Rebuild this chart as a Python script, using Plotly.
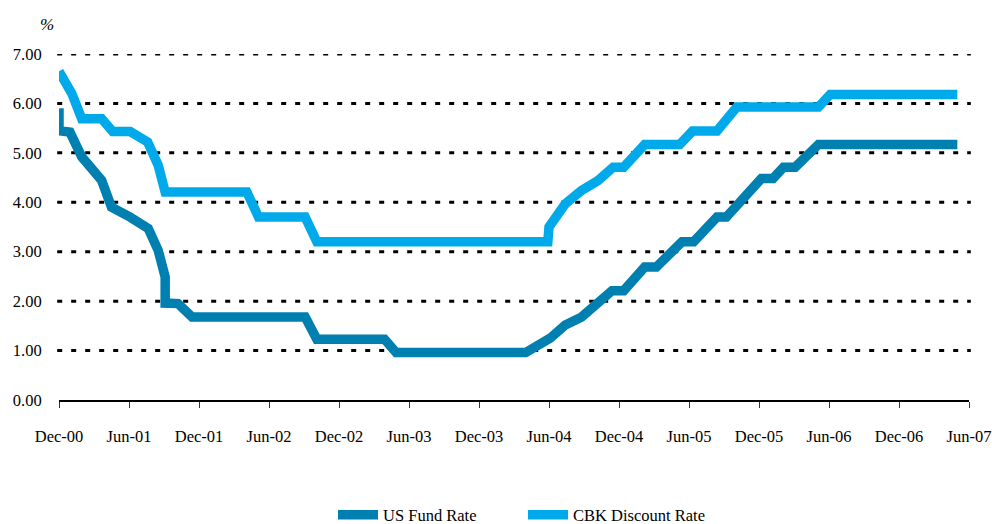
import plotly.graph_objects as go

# ---- data (months since Dec-00) ----
tick_months = [0, 6, 12, 18, 24, 30, 36, 42, 48, 54, 60, 66, 72, 78]
tick_labels = ["Dec-00", "Jun-01", "Dec-01", "Jun-02", "Dec-02", "Jun-03", "Dec-03",
               "Jun-04", "Dec-04", "Jun-05", "Dec-05", "Jun-06", "Dec-06", "Jun-07"]
y_ticks = [0, 1, 2, 3, 4, 5, 6, 7]
y_labels = ["0.00", "1.00", "2.00", "3.00", "4.00", "5.00", "6.00", "7.00"]

us_month = [0, 0, 0.94, 1.95, 3.66, 4.5, 6.1, 7.65, 8.5, 9.1, 9.1, 10.2, 11.4, 21.1, 22.1,
            27.9, 28.9, 40.0, 42.1, 43.4, 44.8, 46.2, 47.4, 48.4, 50.2, 51.2, 53.4, 54.4,
            56.4, 57.2, 60.2, 61.2, 62.1, 63.1, 65.1, 77.0]
us_rate = [5.9, 5.45, 5.42, 4.92, 4.44, 3.9, 3.7, 3.47, 3.03, 2.49, 1.96, 1.95, 1.68, 1.68, 1.23,
           1.23, 0.96, 0.96, 1.25, 1.52, 1.68, 1.95, 2.21, 2.21, 2.69, 2.69, 3.2, 3.2,
           3.70, 3.70, 4.48, 4.48, 4.71, 4.71, 5.17, 5.17]

cbk_month = [0, 1.1, 1.95, 3.66, 4.6, 6.1, 7.6, 8.5, 9.1, 16.1, 17.1, 21.1, 22.1, 41.9, 42.0,
             43.4, 44.8, 46.2, 47.5, 48.4, 50.2, 53.2, 54.3, 56.4, 58.1, 65.1, 66.1, 77.0]
cbk_rate = [6.65, 6.2, 5.69, 5.69, 5.43, 5.43, 5.22, 4.75, 4.21, 4.21, 3.70, 3.70, 3.20, 3.20, 3.5,
            3.97, 4.24, 4.44, 4.71, 4.71, 5.17, 5.17, 5.44, 5.44, 5.93, 5.93, 6.18, 6.18]

grid_values = [1, 2, 3, 4, 5, 6, 7]

US_COLOR = "#007FB1"
CBK_COLOR = "#00A9EA"
FONT = "Liberation Serif"

W, H = 992, 524

fig = go.Figure()
fig.add_trace(go.Scatter(x=us_month, y=us_rate, mode="lines", name="US Fund Rate",
                         line=dict(color=US_COLOR, width=9.5)))
fig.add_trace(go.Scatter(x=cbk_month, y=cbk_rate, mode="lines", name="CBK Discount Rate",
                         line=dict(color=CBK_COLOR, width=9.5)))

for g in grid_values:
    fig.add_shape(type="line", xref="paper", yref="y", x0=-0.002, x1=1.002, y0=g, y1=g,
                  line=dict(color="black", width=3, dash="5px,9px"), layer="below")

fig.update_layout(
    width=W, height=H, autosize=False,
    margin=dict(l=59, r=23, t=54, b=124, autoexpand=False),
    paper_bgcolor="white", plot_bgcolor="white",
    font=dict(family=FONT, size=16.5, color="black"),
    showlegend=True,
    legend=dict(orientation="h", xref="container", yref="container",
                xanchor="left", yanchor="middle",
                x=333 / W, y=1 - 515 / H,
                font=dict(family=FONT, size=16.5, color="black"),
                entrywidth=135, itemwidth=40),
    xaxis=dict(range=[0, 78], tickmode="array", tickvals=tick_months, ticktext=tick_labels,
               showgrid=False, zeroline=False, showline=True, linecolor="black", linewidth=1.5,
               ticks="outside", ticklen=6, tickcolor="#333", tickwidth=1,
               ticklabelstandoff=14, ticklabeloverflow="allow", fixedrange=True),
    yaxis=dict(range=[0, 7], tickmode="array", tickvals=y_ticks, ticktext=y_labels,
               showgrid=False, zeroline=False, showline=False,
               ticks="outside", ticklen=13, tickcolor="rgba(0,0,0,0)", fixedrange=True),
    annotations=[
        dict(text="<i>%</i>", xref="paper", yref="paper", x=(47 - 59) / 910, y=(400 - 24) / 346,
             xanchor="center", yanchor="middle", showarrow=False,
             font=dict(family=FONT, size=17, color="black")),
    ],
)

fig.write_html("out.html", config={"displayModeBar": False},
               post_script="document.body.style.margin='0';document.body.style.overflow='hidden';")
